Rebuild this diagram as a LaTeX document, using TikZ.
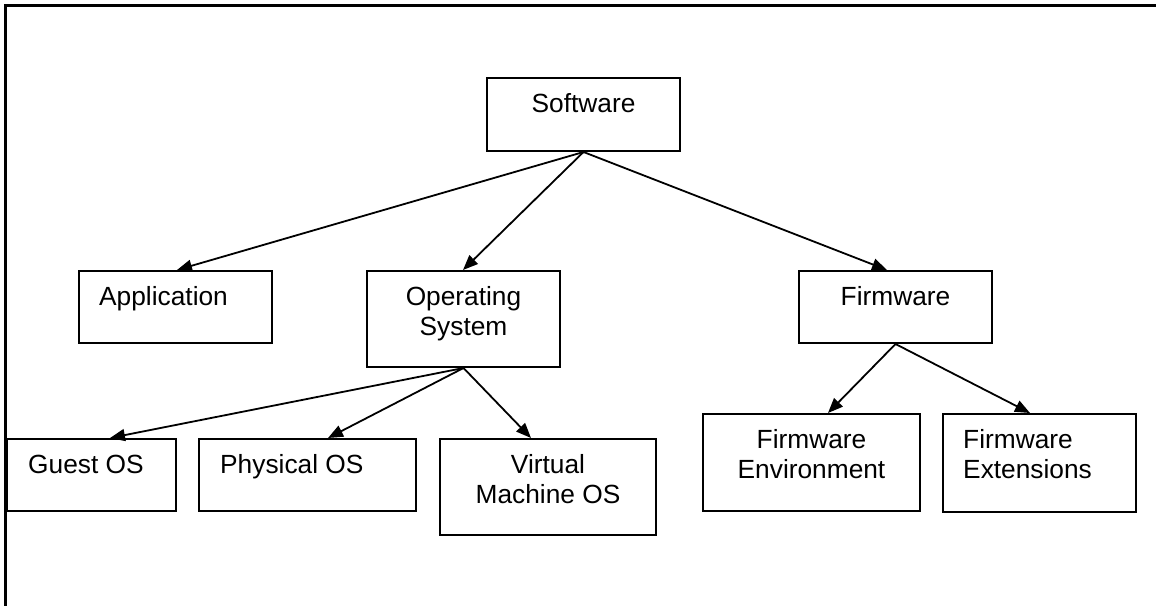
\documentclass[tikz,border=0pt]{standalone}
\usepackage{fontspec}
\setmainfont{Liberation Sans}
\usetikzlibrary{arrows.meta}
\begin{document}
\begin{tikzpicture}[x=1pt,y=-1pt,
  box/.style={draw, line width=2pt, rectangle, inner sep=0pt, anchor=north west},
  lbl/.style={inner sep=0pt, font=\fontsize{26.3}{30}\selectfont},
  lblc/.style={lbl, anchor=base, align=center},
  lbll/.style={lbl, anchor=base west, align=left},
  arr/.style={line width=1.8pt, -{Triangle[length=15pt,width=12pt]}}]
\useasboundingbox (0,0) rectangle (1156,605);
\fill[white] (0,0) rectangle (1156,605);
% outer frame (top and left sides visible)
\draw[line width=3pt] (1160,5) -- (5,5) -- (5,610);

% boxes
\node[box, minimum width=193pt, minimum height=73pt] (sw) at (486,77) {};
\node[box, minimum width=193pt, minimum height=72pt] (app) at (78,270) {};
\node[box, minimum width=193pt, minimum height=96pt] (os) at (366,270) {};
\node[box, minimum width=193pt, minimum height=72pt] (fw) at (798,270) {};
\node[box, minimum width=169pt, minimum height=72pt] (guest) at (6,438) {};
\node[box, minimum width=217pt, minimum height=72pt] (phys) at (198,438) {};
\node[box, minimum width=216pt, minimum height=96pt] (vm) at (439,438) {};
\node[box, minimum width=217pt, minimum height=97pt] (fenv) at (702,413) {};
\node[box, minimum width=193pt, minimum height=98pt] (fext) at (942,413) {};

% labels (two-line labels: base anchor is the last line's baseline)
\node[lblc] (swt) at ([yshift=-35pt]sw.north) {Software};
\node[lbll] (appt) at ([xshift=21pt,yshift=-35pt]app.north west) {Application};
\node[lblc] (ost) at ([yshift=-65pt]os.north) {Operating\\System};
\node[lblc] (fwt) at ([yshift=-35pt]fw.north) {Firmware};
\node[lbll] (guestt) at ([xshift=22pt,yshift=-35pt]guest.north west) {Guest OS};
\node[lbll] (physt) at ([xshift=22pt,yshift=-35pt]phys.north west) {Physical OS};
\node[lblc] (vmt) at ([yshift=-65pt]vm.north) {Virtual\\Machine OS};
\node[lblc] (fenvt) at ([yshift=-65pt]fenv.north) {Firmware\\Environment};
\node[lbll] (fextt) at ([xshift=21pt,yshift=-65pt]fext.north west) {Firmware\\Extensions};

% connectors
\draw[arr] (sw.south) -- ([xshift=99pt]app.north west);
\draw[arr] (sw.south) -- ([xshift=97pt]os.north west);
\draw[arr] (sw.south) -- ([xshift=89pt]fw.north west);
\draw[arr] (os.south) -- ([xshift=104pt]guest.north west);
\draw[arr] (os.south) -- ([xshift=130pt]phys.north west);
\draw[arr] (os.south) -- ([xshift=92pt]vm.north west);
\draw[arr] (fw.south) -- ([xshift=126pt]fenv.north west);
\draw[arr] (fw.south) -- ([xshift=88pt]fext.north west);
\end{tikzpicture}
\end{document}
